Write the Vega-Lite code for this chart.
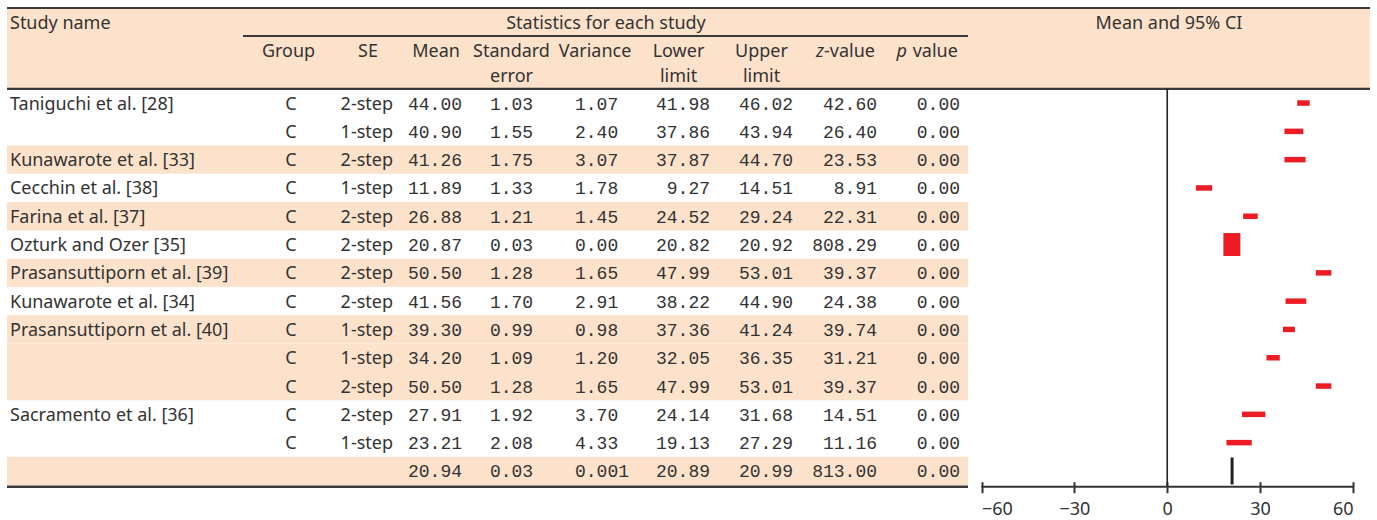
{
  "$schema": "https://vega.github.io/schema/vega-lite/v6.json",
  "width": 1377,
  "height": {"step": 28.3},
  "padding": {"left": 0, "top": 4, "right": 0, "bottom": 0},
  "autosize": {"type": "pad"},
  "background": "white",
  "config": {
    "view": {"stroke": null},
    "axisY": {"disable": true},
    "text": {"font": "Noto Sans", "fontSize": 18, "color": "#333333", "baseline": "middle", "dy": 1.5}
  },
  "datasets": {
    "studies": [
      {"id": "r1", "study": 1, "kind": "study", "name": "Taniguchi et al. [28]", "group": "C", "step": "2-step", "mean": 44.00, "sterr": 1.03, "variance": "1.07", "lower": 41.98, "upper": 46.02, "z": 42.60, "p": 0.00, "weight": 0.084},
      {"id": "r2", "study": 1, "kind": "study", "name": "", "group": "C", "step": "1-step", "mean": 40.90, "sterr": 1.55, "variance": "2.40", "lower": 37.86, "upper": 43.94, "z": 26.40, "p": 0.00, "weight": 0.037},
      {"id": "r3", "study": 2, "kind": "study", "name": "Kunawarote et al. [33]", "group": "C", "step": "2-step", "mean": 41.26, "sterr": 1.75, "variance": "3.07", "lower": 37.87, "upper": 44.70, "z": 23.53, "p": 0.00, "weight": 0.029},
      {"id": "r4", "study": 3, "kind": "study", "name": "Cecchin et al. [38]", "group": "C", "step": "1-step", "mean": 11.89, "sterr": 1.33, "variance": "1.78", "lower": 9.27, "upper": 14.51, "z": 8.91, "p": 0.00, "weight": 0.051},
      {"id": "r5", "study": 4, "kind": "study", "name": "Farina et al. [37]", "group": "C", "step": "2-step", "mean": 26.88, "sterr": 1.21, "variance": "1.45", "lower": 24.52, "upper": 29.24, "z": 22.31, "p": 0.00, "weight": 0.061},
      {"id": "r6", "study": 5, "kind": "study", "name": "Ozturk and Ozer [35]", "group": "C", "step": "2-step", "mean": 20.87, "sterr": 0.03, "variance": "0.00", "lower": 20.82, "upper": 20.92, "z": 808.29, "p": 0.00, "weight": 99.386},
      {"id": "r7", "study": 6, "kind": "study", "name": "Prasansuttiporn et al. [39]", "group": "C", "step": "2-step", "mean": 50.50, "sterr": 1.28, "variance": "1.65", "lower": 47.99, "upper": 53.01, "z": 39.37, "p": 0.00, "weight": 0.055},
      {"id": "r8", "study": 7, "kind": "study", "name": "Kunawarote et al. [34]", "group": "C", "step": "2-step", "mean": 41.56, "sterr": 1.70, "variance": "2.91", "lower": 38.22, "upper": 44.90, "z": 24.38, "p": 0.00, "weight": 0.031},
      {"id": "r9", "study": 8, "kind": "study", "name": "Prasansuttiporn et al. [40]", "group": "C", "step": "1-step", "mean": 39.30, "sterr": 0.99, "variance": "0.98", "lower": 37.36, "upper": 41.24, "z": 39.74, "p": 0.00, "weight": 0.091},
      {"id": "r10", "study": 8, "kind": "study", "name": "", "group": "C", "step": "1-step", "mean": 34.20, "sterr": 1.09, "variance": "1.20", "lower": 32.05, "upper": 36.35, "z": 31.21, "p": 0.00, "weight": 0.075},
      {"id": "r11", "study": 8, "kind": "study", "name": "", "group": "C", "step": "2-step", "mean": 50.50, "sterr": 1.28, "variance": "1.65", "lower": 47.99, "upper": 53.01, "z": 39.37, "p": 0.00, "weight": 0.055},
      {"id": "r12", "study": 9, "kind": "study", "name": "Sacramento et al. [36]", "group": "C", "step": "2-step", "mean": 27.91, "sterr": 1.92, "variance": "3.70", "lower": 24.14, "upper": 31.68, "z": 14.51, "p": 0.00, "weight": 0.024},
      {"id": "r13", "study": 9, "kind": "study", "name": "", "group": "C", "step": "1-step", "mean": 23.21, "sterr": 2.08, "variance": "4.33", "lower": 19.13, "upper": 27.29, "z": 11.16, "p": 0.00, "weight": 0.021},
      {"id": "r14", "study": 10, "kind": "summary", "name": "", "group": "", "step": "", "mean": 20.94, "sterr": 0.03, "variance": "0.001", "lower": 20.89, "upper": 20.99, "z": 813.00, "p": 0.00, "weight": 100}
    ]
  },
  "data": {"name": "studies"},
  "resolve": {"scale": {"x": "independent"}, "axis": {"x": "independent"}},
  "layer": [
    {
      "layer": [
        {
          "data": {"values": [{}]},
          "mark": {"type": "rect", "color": "#FDE2CB"},
          "encoding": {
            "x": {"datum": 0, "type": "quantitative", "axis": null,
                  "scale": {"domain": [0, 1, 2, 3, 4, 5, 6, 7, 8, 9, 10, 11], "range": [7, 243, 334, 402, 470, 553, 637, 720, 803, 887, 968, 1370], "zero": false, "nice": false}},
            "x2": {"datum": 11},
            "y": {"datum": "h1", "type": "nominal", "bandPosition": 0.141, "axis": null,
                  "scale": {"type": "band", "domain": ["h1", "h2", "h3", "r1", "r2", "r3", "r4", "r5", "r6", "r7", "r8", "r9", "r10", "r11", "r12", "r13", "r14"], "paddingInner": 0, "paddingOuter": 0}},
            "y2": {"datum": "r1", "bandPosition": 0}
          }
        },
        {
          "transform": [{"filter": "datum.study % 2 == 0"}],
          "mark": {"type": "rect", "color": "#FDE2CB"},
          "encoding": {
            "x": {"datum": 0, "type": "quantitative", "axis": null},
            "x2": {"datum": 10},
            "y": {"field": "id", "type": "nominal", "axis": null}
          }
        },
        {
          "data": {"values": [{}]},
          "mark": {"type": "rule", "color": "#3a3a3a", "strokeWidth": 2},
          "encoding": {
            "x": {"datum": 0, "type": "quantitative", "axis": null},
            "x2": {"datum": 11},
            "y": {"datum": "h1", "type": "nominal", "bandPosition": 0.141, "axis": null}
          }
        },
        {
          "data": {"values": [{}]},
          "mark": {"type": "rule", "color": "#3a3a3a", "strokeWidth": 2},
          "encoding": {
            "x": {"datum": 1, "type": "quantitative", "axis": null},
            "x2": {"datum": 10},
            "y": {"datum": "h2", "type": "nominal", "bandPosition": 0.131, "axis": null}
          }
        },
        {
          "data": {"values": [{}]},
          "mark": {"type": "rule", "color": "#3a3a3a", "strokeWidth": 2.2},
          "encoding": {
            "x": {"datum": 0, "type": "quantitative", "axis": null},
            "x2": {"datum": 11},
            "y": {"datum": "r1", "type": "nominal", "bandPosition": 0, "axis": null}
          }
        },
        {
          "data": {"values": [{}]},
          "mark": {"type": "rule", "color": "#3a3a3a", "strokeWidth": 2.5},
          "encoding": {
            "x": {"datum": 0, "type": "quantitative", "axis": null},
            "x2": {"datum": 10},
            "y": {"datum": "r14", "type": "nominal", "bandPosition": 1.06, "axis": null}
          }
        },
        {
          "data": {"values": [{}]},
          "mark": {"type": "text", "align": "left", "dx": 3, "text": "Study name"},
          "encoding": {
            "x": {"datum": 0, "type": "quantitative", "axis": null},
            "y": {"datum": "h1", "type": "nominal", "bandPosition": 0.654, "axis": null}
          }
        },
        {
          "data": {"values": [{}]},
          "mark": {"type": "text", "align": "center", "text": "Statistics for each study"},
          "encoding": {
            "x": {"datum": 5.631, "type": "quantitative", "axis": null},
            "y": {"datum": "h1", "type": "nominal", "bandPosition": 0.654, "axis": null}
          }
        },
        {
          "data": {"values": [{}]},
          "mark": {"type": "text", "align": "center", "text": "Mean and 95% CI"},
          "encoding": {
            "x": {"datum": 10.5, "type": "quantitative", "axis": null},
            "y": {"datum": "h1", "type": "nominal", "bandPosition": 0.654, "axis": null}
          }
        },
        {
          "data": {"values": [{}]},
          "mark": {"type": "text", "align": "center", "text": "Group"},
          "encoding": {
            "x": {"datum": 1.5, "type": "quantitative", "axis": null},
            "y": {"datum": "h2", "type": "nominal", "bandPosition": 0.66, "axis": null}
          }
        },
        {
          "data": {"values": [{}]},
          "mark": {"type": "text", "align": "center", "text": "SE"},
          "encoding": {
            "x": {"datum": 2.5, "type": "quantitative", "axis": null},
            "y": {"datum": "h2", "type": "nominal", "bandPosition": 0.66, "axis": null}
          }
        },
        {
          "data": {"values": [{}]},
          "mark": {"type": "text", "align": "center", "text": "Mean"},
          "encoding": {
            "x": {"datum": 3.5, "type": "quantitative", "axis": null},
            "y": {"datum": "h2", "type": "nominal", "bandPosition": 0.66, "axis": null}
          }
        },
        {
          "data": {"values": [{}]},
          "mark": {"type": "text", "align": "center", "text": "Standard"},
          "encoding": {
            "x": {"datum": 4.5, "type": "quantitative", "axis": null},
            "y": {"datum": "h2", "type": "nominal", "bandPosition": 0.66, "axis": null}
          }
        },
        {
          "data": {"values": [{}]},
          "mark": {"type": "text", "align": "center", "text": "error"},
          "encoding": {
            "x": {"datum": 4.5, "type": "quantitative", "axis": null},
            "y": {"datum": "h3", "type": "nominal", "bandPosition": 0.509, "axis": null}
          }
        },
        {
          "data": {"values": [{}]},
          "mark": {"type": "text", "align": "center", "text": "Variance"},
          "encoding": {
            "x": {"datum": 5.5, "type": "quantitative", "axis": null},
            "y": {"datum": "h2", "type": "nominal", "bandPosition": 0.66, "axis": null}
          }
        },
        {
          "data": {"values": [{}]},
          "mark": {"type": "text", "align": "center", "text": "Lower"},
          "encoding": {
            "x": {"datum": 6.5, "type": "quantitative", "axis": null},
            "y": {"datum": "h2", "type": "nominal", "bandPosition": 0.66, "axis": null}
          }
        },
        {
          "data": {"values": [{}]},
          "mark": {"type": "text", "align": "center", "text": "limit"},
          "encoding": {
            "x": {"datum": 6.5, "type": "quantitative", "axis": null},
            "y": {"datum": "h3", "type": "nominal", "bandPosition": 0.509, "axis": null}
          }
        },
        {
          "data": {"values": [{}]},
          "mark": {"type": "text", "align": "center", "text": "Upper"},
          "encoding": {
            "x": {"datum": 7.5, "type": "quantitative", "axis": null},
            "y": {"datum": "h2", "type": "nominal", "bandPosition": 0.66, "axis": null}
          }
        },
        {
          "data": {"values": [{}]},
          "mark": {"type": "text", "align": "center", "text": "limit"},
          "encoding": {
            "x": {"datum": 7.5, "type": "quantitative", "axis": null},
            "y": {"datum": "h3", "type": "nominal", "bandPosition": 0.509, "axis": null}
          }
        },
        {
          "data": {"values": [{}]},
          "mark": {"type": "text", "align": "right", "fontStyle": "italic", "text": "z"},
          "encoding": {
            "x": {"datum": 8.25, "type": "quantitative", "axis": null},
            "y": {"datum": "h2", "type": "nominal", "bandPosition": 0.66, "axis": null}
          }
        },
        {
          "data": {"values": [{}]},
          "mark": {"type": "text", "align": "left", "text": "-value"},
          "encoding": {
            "x": {"datum": 8.25, "type": "quantitative", "axis": null},
            "y": {"datum": "h2", "type": "nominal", "bandPosition": 0.66, "axis": null}
          }
        },
        {
          "data": {"values": [{}]},
          "mark": {"type": "text", "align": "right", "fontStyle": "italic", "text": "p"},
          "encoding": {
            "x": {"datum": 9.247, "type": "quantitative", "axis": null},
            "y": {"datum": "h2", "type": "nominal", "bandPosition": 0.66, "axis": null}
          }
        },
        {
          "data": {"values": [{}]},
          "mark": {"type": "text", "align": "left", "text": "value"},
          "encoding": {
            "x": {"datum": 9.317, "type": "quantitative", "axis": null},
            "y": {"datum": "h2", "type": "nominal", "bandPosition": 0.66, "axis": null}
          }
        },
        {
          "mark": {"type": "text", "align": "left", "dx": 3},
          "encoding": {
            "text": {"field": "name"},
            "x": {"datum": 0, "type": "quantitative", "axis": null},
            "y": {"field": "id", "type": "nominal", "axis": null}
          }
        },
        {
          "mark": {"type": "text", "align": "center", "dx": 2.5},
          "encoding": {
            "text": {"field": "group"},
            "x": {"datum": 1.5, "type": "quantitative", "axis": null},
            "y": {"field": "id", "type": "nominal", "axis": null}
          }
        },
        {
          "mark": {"type": "text", "align": "right", "dx": -9},
          "encoding": {
            "text": {"field": "step"},
            "x": {"datum": 3, "type": "quantitative", "axis": null},
            "y": {"field": "id", "type": "nominal", "axis": null}
          }
        },
        {
          "mark": {"type": "text", "align": "right", "dx": -8, "font": "Liberation Mono"},
          "encoding": {
            "text": {"field": "mean", "type": "quantitative", "format": ".2f"},
            "x": {"datum": 4, "type": "quantitative", "axis": null},
            "y": {"field": "id", "type": "nominal", "axis": null}
          }
        },
        {
          "mark": {"type": "text", "align": "center", "font": "Liberation Mono"},
          "encoding": {
            "text": {"field": "sterr", "type": "quantitative", "format": ".2f"},
            "x": {"datum": 4.5, "type": "quantitative", "axis": null},
            "y": {"field": "id", "type": "nominal", "axis": null}
          }
        },
        {
          "mark": {"type": "text", "align": "left", "dx": 22, "font": "Liberation Mono"},
          "encoding": {
            "text": {"field": "variance"},
            "x": {"datum": 5, "type": "quantitative", "axis": null},
            "y": {"field": "id", "type": "nominal", "axis": null}
          }
        },
        {
          "mark": {"type": "text", "align": "right", "dx": -10, "font": "Liberation Mono"},
          "encoding": {
            "text": {"field": "lower", "type": "quantitative", "format": ".2f"},
            "x": {"datum": 7, "type": "quantitative", "axis": null},
            "y": {"field": "id", "type": "nominal", "axis": null}
          }
        },
        {
          "mark": {"type": "text", "align": "right", "dx": -10, "font": "Liberation Mono"},
          "encoding": {
            "text": {"field": "upper", "type": "quantitative", "format": ".2f"},
            "x": {"datum": 8, "type": "quantitative", "axis": null},
            "y": {"field": "id", "type": "nominal", "axis": null}
          }
        },
        {
          "mark": {"type": "text", "align": "right", "dx": -10, "font": "Liberation Mono"},
          "encoding": {
            "text": {"field": "z", "type": "quantitative", "format": ".2f"},
            "x": {"datum": 9, "type": "quantitative", "axis": null},
            "y": {"field": "id", "type": "nominal", "axis": null}
          }
        },
        {
          "mark": {"type": "text", "align": "right", "dx": -8, "font": "Liberation Mono"},
          "encoding": {
            "text": {"field": "p", "type": "quantitative", "format": ".2f"},
            "x": {"datum": 10, "type": "quantitative", "axis": null},
            "y": {"field": "id", "type": "nominal", "axis": null}
          }
        }
      ]
    },
    {
      "layer": [
        {
          "data": {"values": [{}]},
          "mark": {"type": "rule", "color": "#222222", "strokeWidth": 1.6},
          "encoding": {
            "x": {"datum": 0, "type": "quantitative",
                  "scale": {"domain": [-60, 60], "range": [981.5, 1353], "zero": false, "nice": false},
                  "axis": {"values": [-60, -30, 0, 30, 60], "title": null, "domain": false, "grid": false,
                           "tickSize": 11, "tickWidth": 2, "tickColor": "#333333", "offset": -3.4,
                           "labelFont": "Noto Sans", "labelFontSize": 18, "labelColor": "#333333", "labelPadding": 8}},
            "y": {"datum": "r1", "type": "nominal", "bandPosition": 0, "axis": null},
            "y2": {"datum": "r14", "bandPosition": 1.06}
          }
        },
        {
          "data": {"values": [{}]},
          "mark": {"type": "rule", "color": "#333333", "strokeWidth": 2},
          "encoding": {
            "x": {"datum": -60, "type": "quantitative"},
            "x2": {"datum": 60},
            "y": {"datum": "r14", "type": "nominal", "bandPosition": 1.06, "axis": null}
          }
        },
        {
          "transform": [{"filter": "datum.kind == 'study'"}],
          "mark": {"type": "rule", "color": "#ED1C24", "strokeWidth": 5.5},
          "encoding": {
            "x": {"field": "lower", "type": "quantitative"},
            "x2": {"field": "upper"},
            "y": {"field": "id", "type": "nominal", "axis": null}
          }
        },
        {
          "transform": [{"filter": "datum.kind == 'study'"}],
          "mark": {"type": "point", "filled": true, "opacity": 1, "color": "#ED1C24", "strokeWidth": 0,
                   "shape": "M-0.74,-1H0.74V1H-0.74Z"},
          "encoding": {
            "x": {"field": "mean", "type": "quantitative"},
            "y": {"field": "id", "type": "nominal", "axis": null},
            "size": {"field": "weight", "type": "quantitative", "legend": null,
                     "scale": {"domain": [0, 100], "range": [0, 529]}}
          }
        },
        {
          "transform": [{"filter": "datum.kind == 'summary'"}],
          "mark": {"type": "tick", "color": "#222222", "thickness": 3, "size": 27, "opacity": 1},
          "encoding": {
            "x": {"field": "mean", "type": "quantitative"},
            "y": {"field": "id", "type": "nominal", "axis": null}
          }
        }
      ]
    }
  ]
}
